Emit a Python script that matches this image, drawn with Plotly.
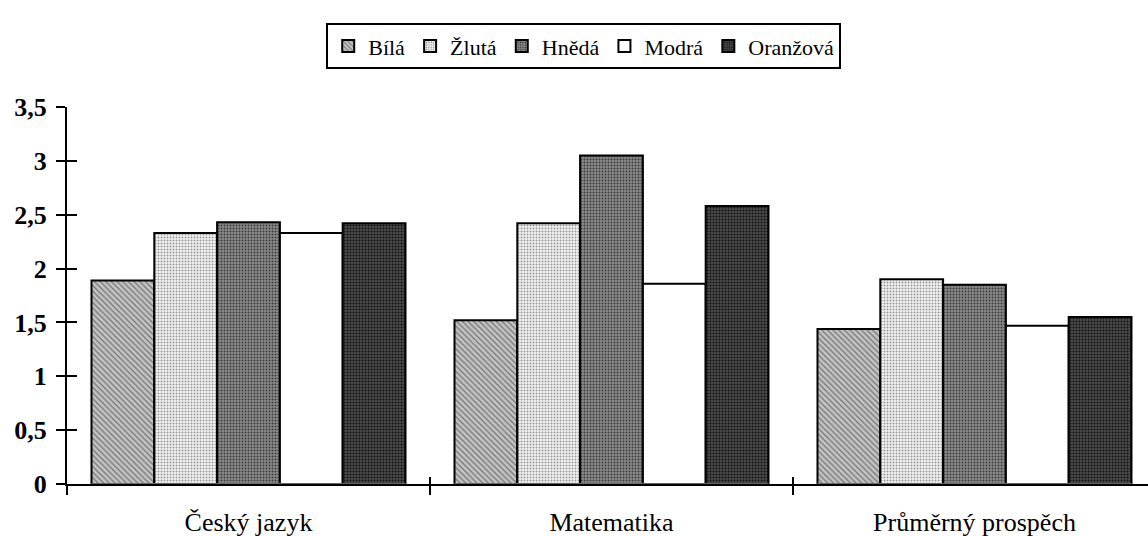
import plotly.graph_objects as go

categories = ["Český jazyk", "Matematika", "Průměrný prospěch"]

bila = [1.89, 1.52, 1.44]
zluta = [2.33, 2.42, 1.90]
hneda = [2.43, 3.05, 1.85]
modra = [2.33, 1.86, 1.47]
oranzova = [2.42, 2.58, 1.55]

series_names = ["Bílá", "Žlutá", "Hnědá", "Modrá", "Oranžová"]
series_values = [bila, zluta, hneda, modra, oranzova]

y_tick_vals = [0, 0.5, 1, 1.5, 2, 2.5, 3, 3.5]
y_tick_text = ["0", "0,5", "1", "1,5", "2", "2,5", "3", "3,5"]

# fill styles: (background, pattern shape, pattern colour, pattern size)
fills = [
    ("#c4c4c4", "\\", "#7a7a7a", 4),
    ("#f2f2f2", ".", "#9a9a9a", 3),
    ("#8a8a8a", ".", "#3c3c3c", 3),
    ("#ffffff", "", "#ffffff", 4),
    ("#4a4a4a", ".", "#111111", 3),
]

SERIF = "Liberation Serif, Times New Roman, DejaVu Serif, serif"

fig = go.Figure()
for name, vals, (bg, shape, fg, size) in zip(series_names, series_values, fills):
    fig.add_trace(go.Bar(
        name=name,
        x=categories,
        y=vals,
        marker=dict(
            color=bg,
            line=dict(color="black", width=2),
            pattern=dict(shape=shape, fgcolor=fg, bgcolor=bg, size=size,
                         solidity=0.35, fillmode="replace"),
        ),
    ))

# invisible trace carrying the inner half of the crossing tick marks
fig.add_trace(go.Bar(x=categories, y=[0, 0, 0], xaxis="x2", yaxis="y2",
                     showlegend=False, hoverinfo="skip",
                     marker=dict(color="rgba(0,0,0,0)")))

fig.update_layout(
    width=1148, height=536,
    margin=dict(l=67, r=0, t=107, b=52),
    plot_bgcolor="white", paper_bgcolor="white",
    barmode="group", bargap=0.135, bargroupgap=0,
    font=dict(family=SERIF, color="black"),
    legend=dict(
        orientation="h", x=0.478, xanchor="center", y=1.222, yanchor="top",
        font=dict(family=SERIF, size=22, color="black"),
        bordercolor="black", borderwidth=2, bgcolor="white",
        itemwidth=30, tracegroupgap=0,
    ),
    xaxis=dict(
        range=[-0.5, 2.478], showgrid=False, zeroline=False, automargin=False,
        showline=True, linecolor="black", linewidth=2,
        ticks="outside", tickson="boundaries", ticklen=9, tickwidth=1.5,
        tickcolor="black", tickfont=dict(family=SERIF, size=26),
        ticklabelstandoff=14,
    ),
    yaxis=dict(
        range=[0, 3.5], showgrid=False, zeroline=False, automargin=False,
        showline=True, linecolor="black", linewidth=2,
        tickvals=y_tick_vals, ticktext=y_tick_text,
        ticks="outside", ticklen=9, tickwidth=2, tickcolor="black",
        tickfont=dict(family=SERIF, size=26, weight="bold"),
        ticklabelstandoff=4,
    ),
    xaxis2=dict(
        overlaying="x", matches="x", showgrid=False, zeroline=False,
        showline=False, ticks="inside", tickson="boundaries", ticklen=7,
        tickwidth=1.5, tickcolor="black", showticklabels=False,
        side="bottom",
    ),
    yaxis2=dict(
        overlaying="y", matches="y", showgrid=False, zeroline=False,
        showline=False, tickvals=y_tick_vals, ticks="inside", ticklen=10,
        tickwidth=2, tickcolor="black", showticklabels=False,
    ),
)

fig.write_html("out.html")
